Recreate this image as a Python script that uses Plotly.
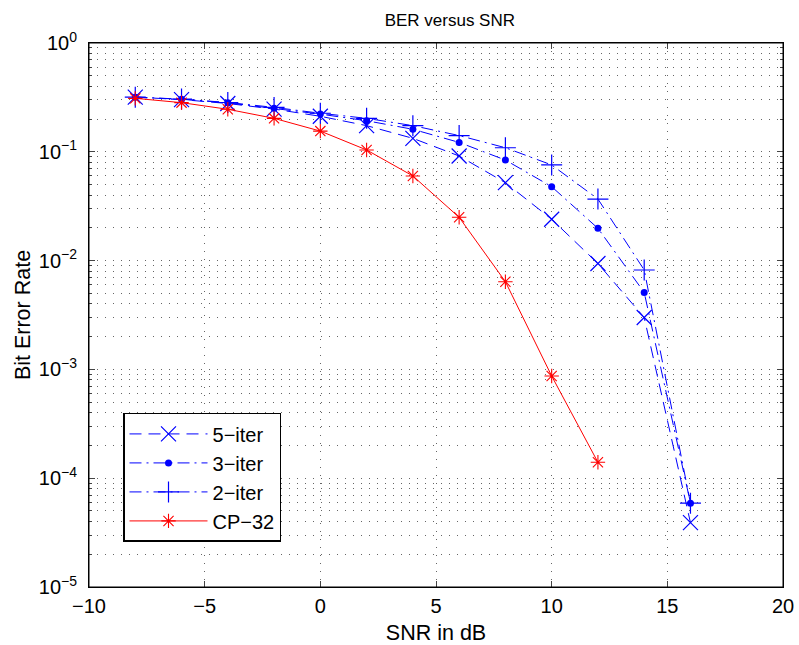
"""BER versus SNR chart (MATLAB-style semilog plot)."""
import plotly.graph_objects as go

# SNR points (dB)
snr = [-8, -6, -4, -2, 0, 2, 4, 6, 8, 10, 12, 14, 16]
snr_cp = [-8, -6, -4, -2, 0, 2, 4, 6, 8, 10, 12]

# bit error rates
ber_5iter = [0.318, 0.302, 0.278, 0.247, 0.212, 0.174, 0.133, 0.0915, 0.052, 0.024, 0.0094, 0.0030, 3.9e-5]
ber_3iter = [0.318, 0.304, 0.282, 0.252, 0.222, 0.193, 0.161, 0.122, 0.084, 0.0478, 0.0198, 0.0051, 5.9e-5]
ber_2iter = [0.318, 0.305, 0.284, 0.256, 0.226, 0.203, 0.174, 0.141, 0.109, 0.0757, 0.0368, 0.0082, 5.9e-5]
ber_cp32 = [0.31, 0.283, 0.246, 0.203, 0.155, 0.104, 0.060, 0.025, 0.0064, 0.00087, 1.4e-4]

y_exponents = [-5, -4, -3, -2, -1, 0]
x_ticks = [-10, -5, 0, 5, 10, 15, 20]

BLUE = '#0000ff'
RED = '#ff0000'
FONT = 'Liberation Sans, Arial, sans-serif'
GRID_DASH = '1px,7px'
GRID_COLOR = '#666'
DASHDOT = '12px,5px,2px,5px'

fig = go.Figure()
fig.add_trace(go.Scatter(
    x=snr, y=ber_5iter, name='5\u2212iter', mode='lines+markers',
    line=dict(color=BLUE, width=1, dash='12px,7px'),
    marker=dict(symbol='x-thin-open', size=15, line=dict(color=BLUE, width=1.2)),
))
fig.add_trace(go.Scatter(
    x=snr, y=ber_3iter, name='3\u2212iter', mode='lines+markers',
    line=dict(color=BLUE, width=1, dash=DASHDOT),
    marker=dict(symbol='circle', size=7, color=BLUE),
))
fig.add_trace(go.Scatter(
    x=snr, y=ber_2iter, name='2\u2212iter', mode='lines+markers',
    line=dict(color=BLUE, width=1, dash=DASHDOT),
    marker=dict(symbol='cross-thin-open', size=15, line=dict(color=BLUE, width=1.2)),
))
fig.add_trace(go.Scatter(
    x=snr_cp, y=ber_cp32, name='CP\u221232', mode='lines+markers',
    line=dict(color=RED, width=1),
    marker=dict(symbol='asterisk-open', size=12, line=dict(color=RED, width=1.1)),
))

minor_y = [m * 10.0 ** e for e in y_exponents[:-1] for m in range(2, 10)]

fig.update_layout(
    width=799, height=645,
    paper_bgcolor='white', plot_bgcolor='white',
    font=dict(family=FONT, size=20, color='black'),
    margin=dict(l=89, r=16, t=43, b=58, autoexpand=False),
    title=dict(text='BER versus SNR', x=0.563, xanchor='center', y=0.969, yanchor='middle',
               font=dict(size=17)),
    legend=dict(
        x=0.049, y=0.32, xanchor='left', yanchor='top',
        bgcolor='white', bordercolor='black', borderwidth=1.5,
        font=dict(size=20), itemwidth=78, tracegroupgap=0,
    ),
    xaxis=dict(
        range=[-10, 20], tickvals=x_ticks, ticks='inside', ticklen=6,
        showline=True, linecolor='black', linewidth=1, mirror='allticks',
        showgrid=True, gridcolor=GRID_COLOR, griddash=GRID_DASH, gridwidth=1,
        zeroline=False, automargin=False, ticklabelstandoff=1,
        title=dict(text='SNR in dB', standoff=16, font=dict(size=21.5)),
        tickfont=dict(size=20),
    ),
    yaxis=dict(
        type='log', range=[-5, 0],
        tickvals=[10.0 ** e for e in y_exponents],
        ticktext=['10<sup>%d</sup>' % e if e == 0 else '10<sup>\u2212%d</sup>' % -e for e in y_exponents],
        ticks='inside', ticklen=6,
        showline=True, linecolor='black', linewidth=1, mirror='allticks',
        showgrid=True, gridcolor=GRID_COLOR, griddash=GRID_DASH, gridwidth=1,
        zeroline=False, automargin=False, ticklabelstandoff=7,
        title=dict(text='Bit Error Rate', standoff=2, font=dict(size=21.5)),
        tickfont=dict(size=20),
        minor=dict(tickmode='array', tickvals=minor_y, ticks='inside', ticklen=3,
                   showgrid=True, gridcolor=GRID_COLOR, griddash=GRID_DASH, gridwidth=1),
    ),
)

# axes box (MATLAB style closed frame)
fig.add_shape(type='rect', xref='paper', yref='paper', x0=0, y0=0, x1=1, y1=1,
              line=dict(color='black', width=1), layer='above')

# drop the default 8px body margin so the figure fills the window
fig.write_html("out.html", config=dict(displayModeBar=False),
               post_script="document.body.style.margin = '0';")
